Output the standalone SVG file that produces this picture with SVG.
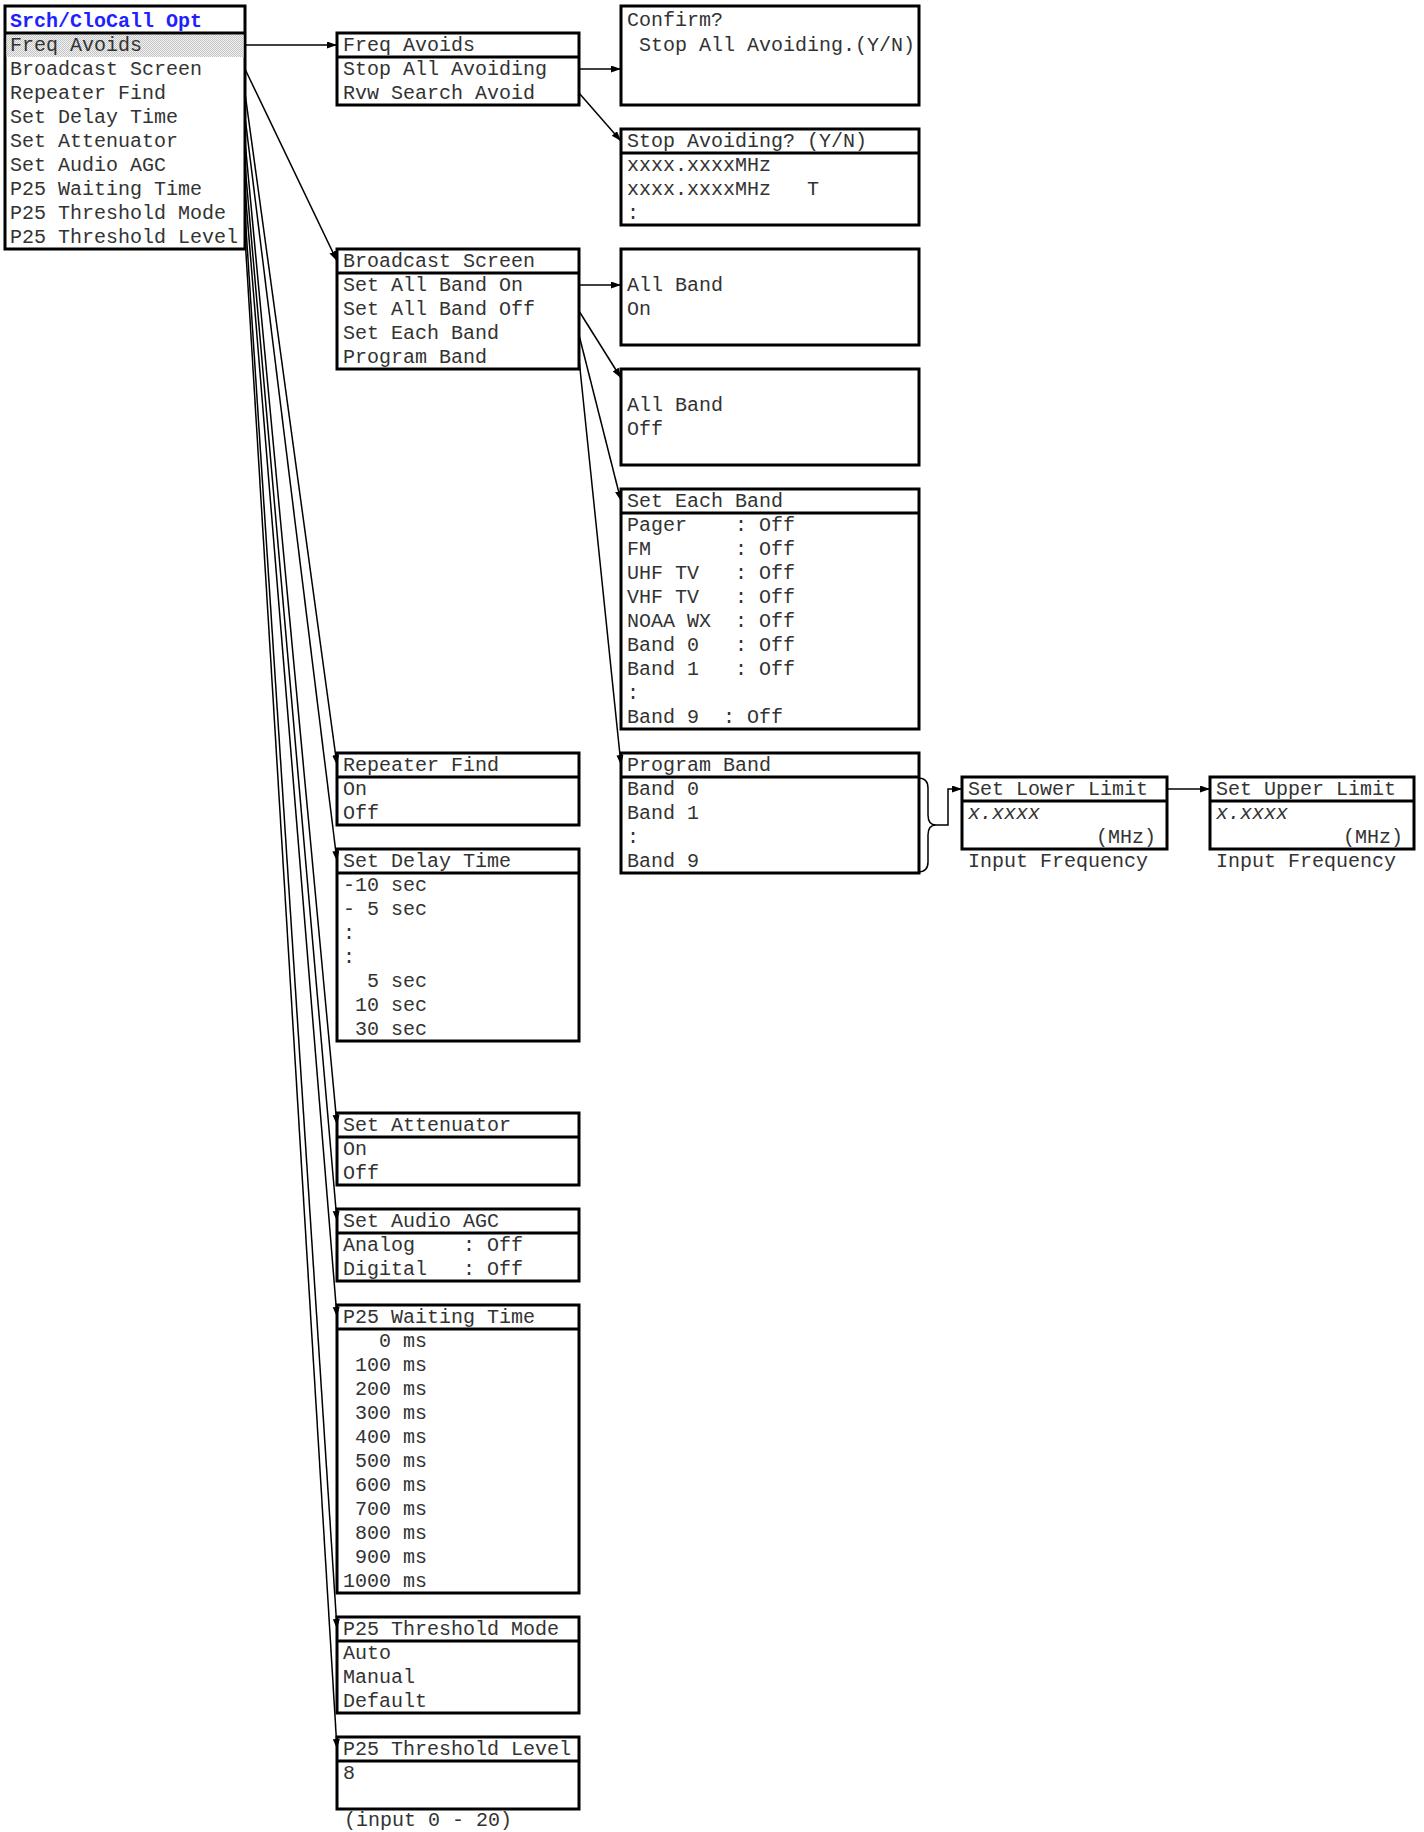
<svg xmlns="http://www.w3.org/2000/svg" width="1424" height="1832" viewBox="0 0 1424 1832" xml:space="preserve">
<style>
.box{fill:#fff;stroke:#000;stroke-width:3}
.sep{stroke:#000;stroke-width:3}
.t{font-family:"Liberation Mono","Courier New",monospace;font-size:20px;fill:#333;white-space:pre}
.ttl{font-weight:bold;fill:#1f1fff}
.it{font-style:italic}
.c{fill:none;stroke:#000;stroke-width:1.5}
.ca{fill:none;stroke:#000;stroke-width:1.5;marker-end:url(#ah)}
</style>
<defs>
<marker id="ah" markerUnits="userSpaceOnUse" markerWidth="11" markerHeight="8" refX="10" refY="3.5" orient="auto">
<path d="M0,0 L10,3.5 L0,7 z" fill="#000"/>
</marker>
<pattern id="dots" width="2" height="2" patternUnits="userSpaceOnUse">
<rect width="2" height="2" fill="#f2f2f2"/>
<rect width="1" height="1" fill="#c4c4c4"/>
<rect x="1" y="1" width="1" height="1" fill="#c4c4c4"/>
</pattern>
</defs>
<rect width="1424" height="1832" fill="#fff"/>

<g id="main">
<rect class="box" x="5" y="6" width="240" height="243"/>
<rect x="6.5" y="34.5" width="237" height="22.5" fill="url(#dots)"/>
<line class="sep" x1="5" y1="33" x2="245" y2="33"/>
<text class="t ttl" x="10" y="27">Srch/CloCall Opt</text>
<text class="t" x="10" y="51">Freq Avoids</text>
<text class="t" x="10" y="75">Broadcast Screen</text>
<text class="t" x="10" y="99">Repeater Find</text>
<text class="t" x="10" y="123">Set Delay Time</text>
<text class="t" x="10" y="147">Set Attenuator</text>
<text class="t" x="10" y="171">Set Audio AGC</text>
<text class="t" x="10" y="195">P25 Waiting Time</text>
<text class="t" x="10" y="219">P25 Threshold Mode</text>
<text class="t" x="10" y="243">P25 Threshold Level</text>
</g>

<g id="freq-avoids">
<rect class="box" x="337" y="33" width="242" height="72"/>
<line class="sep" x1="337" y1="57" x2="579" y2="57"/>
<text class="t" x="343" y="51">Freq Avoids</text>
<text class="t" x="343" y="75">Stop All Avoiding</text>
<text class="t" x="343" y="99">Rvw Search Avoid</text>
</g>

<g id="confirm">
<rect class="box" x="621" y="6" width="298" height="99"/>
<text class="t" x="627" y="26">Confirm?</text>
<text class="t" x="627" y="51"> Stop All Avoiding.(Y/N)</text>
</g>

<g id="stop-avoiding">
<rect class="box" x="621" y="129" width="298" height="96"/>
<line class="sep" x1="621" y1="153" x2="919" y2="153"/>
<text class="t" x="627" y="147">Stop Avoiding? (Y/N)</text>
<text class="t" x="627" y="171">xxxx.xxxxMHz</text>
<text class="t" x="627" y="195">xxxx.xxxxMHz   T</text>
<text class="t" x="627" y="219">:</text>
</g>

<g id="broadcast-screen">
<rect class="box" x="337" y="249" width="242" height="120"/>
<line class="sep" x1="337" y1="273" x2="579" y2="273"/>
<text class="t" x="343" y="267">Broadcast Screen</text>
<text class="t" x="343" y="291">Set All Band On</text>
<text class="t" x="343" y="315">Set All Band Off</text>
<text class="t" x="343" y="339">Set Each Band</text>
<text class="t" x="343" y="363">Program Band</text>
</g>

<g id="all-band-on">
<rect class="box" x="621" y="249" width="298" height="96"/>
<text class="t" x="627" y="291">All Band</text>
<text class="t" x="627" y="315">On</text>
</g>

<g id="all-band-off">
<rect class="box" x="621" y="369" width="298" height="96"/>
<text class="t" x="627" y="411">All Band</text>
<text class="t" x="627" y="435">Off</text>
</g>

<g id="set-each-band">
<rect class="box" x="621" y="489" width="298" height="240"/>
<line class="sep" x1="621" y1="513" x2="919" y2="513"/>
<text class="t" x="627" y="507">Set Each Band</text>
<text class="t" x="627" y="531">Pager    : Off</text>
<text class="t" x="627" y="555">FM       : Off</text>
<text class="t" x="627" y="579">UHF TV   : Off</text>
<text class="t" x="627" y="603">VHF TV   : Off</text>
<text class="t" x="627" y="627">NOAA WX  : Off</text>
<text class="t" x="627" y="651">Band 0   : Off</text>
<text class="t" x="627" y="675">Band 1   : Off</text>
<text class="t" x="627" y="699">:</text>
<text class="t" x="627" y="723">Band 9  : Off</text>
</g>

<g id="program-band">
<rect class="box" x="621" y="753" width="298" height="120"/>
<line class="sep" x1="621" y1="777" x2="919" y2="777"/>
<text class="t" x="627" y="771">Program Band</text>
<text class="t" x="627" y="795">Band 0</text>
<text class="t" x="627" y="819">Band 1</text>
<text class="t" x="627" y="843">:</text>
<text class="t" x="627" y="867">Band 9</text>
</g>

<g id="set-lower-limit">
<rect class="box" x="962" y="777" width="205" height="72"/>
<line class="sep" x1="962" y1="801" x2="1167" y2="801"/>
<text class="t" x="968" y="795">Set Lower Limit</text>
<text class="t it" x="968" y="819">x.xxxx</text>
<text class="t" x="1156" y="843" text-anchor="end">(MHz)</text>
<text class="t" x="968" y="867">Input Frequency</text>
</g>

<g id="set-upper-limit">
<rect class="box" x="1210" y="777" width="204" height="72"/>
<line class="sep" x1="1210" y1="801" x2="1414" y2="801"/>
<text class="t" x="1216" y="795">Set Upper Limit</text>
<text class="t it" x="1216" y="819">x.xxxx</text>
<text class="t" x="1403" y="843" text-anchor="end">(MHz)</text>
<text class="t" x="1216" y="867">Input Frequency</text>
</g>

<g id="repeater-find">
<rect class="box" x="337" y="753" width="242" height="72"/>
<line class="sep" x1="337" y1="777" x2="579" y2="777"/>
<text class="t" x="343" y="771">Repeater Find</text>
<text class="t" x="343" y="795">On</text>
<text class="t" x="343" y="819">Off</text>
</g>

<g id="set-delay-time">
<rect class="box" x="337" y="849" width="242" height="192"/>
<line class="sep" x1="337" y1="873" x2="579" y2="873"/>
<text class="t" x="343" y="867">Set Delay Time</text>
<text class="t" x="343" y="891">-10 sec</text>
<text class="t" x="343" y="915">- 5 sec</text>
<text class="t" x="343" y="939">:</text>
<text class="t" x="343" y="963">:</text>
<text class="t" x="343" y="987">  5 sec</text>
<text class="t" x="343" y="1011"> 10 sec</text>
<text class="t" x="343" y="1035"> 30 sec</text>
</g>

<g id="set-attenuator">
<rect class="box" x="337" y="1113" width="242" height="72"/>
<line class="sep" x1="337" y1="1137" x2="579" y2="1137"/>
<text class="t" x="343" y="1131">Set Attenuator</text>
<text class="t" x="343" y="1155">On</text>
<text class="t" x="343" y="1179">Off</text>
</g>

<g id="set-audio-agc">
<rect class="box" x="337" y="1209" width="242" height="72"/>
<line class="sep" x1="337" y1="1233" x2="579" y2="1233"/>
<text class="t" x="343" y="1227">Set Audio AGC</text>
<text class="t" x="343" y="1251">Analog    : Off</text>
<text class="t" x="343" y="1275">Digital   : Off</text>
</g>

<g id="p25-waiting-time">
<rect class="box" x="337" y="1305" width="242" height="288"/>
<line class="sep" x1="337" y1="1329" x2="579" y2="1329"/>
<text class="t" x="343" y="1323">P25 Waiting Time</text>
<text class="t" x="343" y="1347">   0 ms</text>
<text class="t" x="343" y="1371"> 100 ms</text>
<text class="t" x="343" y="1395"> 200 ms</text>
<text class="t" x="343" y="1419"> 300 ms</text>
<text class="t" x="343" y="1443"> 400 ms</text>
<text class="t" x="343" y="1467"> 500 ms</text>
<text class="t" x="343" y="1491"> 600 ms</text>
<text class="t" x="343" y="1515"> 700 ms</text>
<text class="t" x="343" y="1539"> 800 ms</text>
<text class="t" x="343" y="1563"> 900 ms</text>
<text class="t" x="343" y="1587">1000 ms</text>
</g>

<g id="p25-threshold-mode">
<rect class="box" x="337" y="1617" width="242" height="96"/>
<line class="sep" x1="337" y1="1641" x2="579" y2="1641"/>
<text class="t" x="343" y="1635">P25 Threshold Mode</text>
<text class="t" x="343" y="1659">Auto</text>
<text class="t" x="343" y="1683">Manual</text>
<text class="t" x="343" y="1707">Default</text>
</g>

<g id="p25-threshold-level">
<rect class="box" x="337" y="1737" width="242" height="72"/>
<line class="sep" x1="337" y1="1761" x2="579" y2="1761"/>
<text class="t" x="343" y="1755">P25 Threshold Level</text>
<text class="t" x="343" y="1779">8</text>
<text class="t" x="344" y="1826">(input 0 - 20)</text>
</g>

<g id="connectors">
<path class="ca" d="M245,45 H337"/>
<path class="ca" d="M579,69 H621"/>
<path class="ca" d="M579,93 L621,141"/>
<path class="ca" d="M245,69 L337,261"/>
<path class="ca" d="M579,285 H621"/>
<path class="ca" d="M579,311 L621,378"/>
<path class="ca" d="M579,335 L621,501"/>
<path class="ca" d="M579,359 L621,765"/>
<path class="ca" d="M245,93 L337,765"/>
<path class="ca" d="M245,117 L337,861"/>
<path class="ca" d="M245,141 L337,1125"/>
<path class="ca" d="M245,165 L337,1221"/>
<path class="ca" d="M245,189 L337,1317"/>
<path class="ca" d="M245,213 L337,1629"/>
<path class="ca" d="M245,237 L337,1749"/>
<path class="c" d="M918,778 Q928,778 928,788 L928,815 Q928,825 936,825 Q928,825 928,835 L928,862 Q928,872 918,872"/>
<path class="ca" d="M936,825 H948 V789 H962"/>
<path class="ca" d="M1167,789 H1210"/>
</g>
</svg>
